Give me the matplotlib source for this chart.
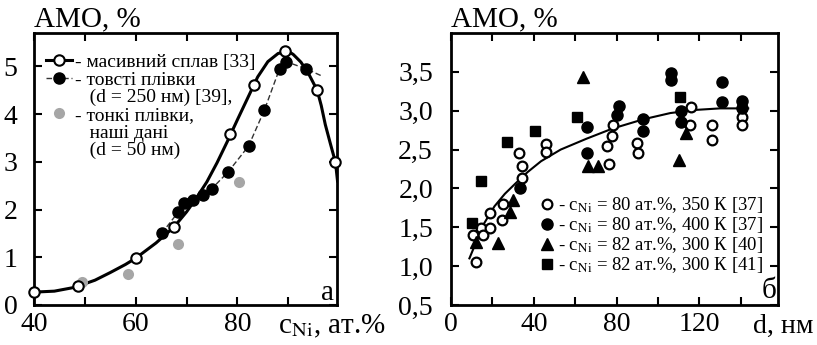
import matplotlib.pyplot as plt
from matplotlib.lines import Line2D

plt.rcParams['font.family'] = ['Liberation Serif', 'DejaVu Serif']
plt.rcParams['mathtext.fontset'] = 'stix'

# --- panel a: AMO vs Ni content ---
bulk_x = [40, 48.6, 60.1, 67.5, 78.6, 83.2, 89.4, 95.7, 99.3]
bulk_y = [0.28, 0.40, 0.98, 1.63, 3.59, 4.60, 5.32, 4.50, 2.99]
# solid curve
bulk_curve_x = [40, 44, 48, 52, 55, 58, 60, 64, 67.5, 70, 72, 74, 76, 78, 80, 82, 84, 86,
                88, 90, 91, 92.5, 94, 95.7, 96.5, 97.3, 98.3, 99.3, 99.7]
bulk_curve_y = [0.27, 0.29, 0.37, 0.52, 0.68, 0.85, 0.98, 1.30, 1.63, 1.95, 2.25, 2.58, 2.98, 3.42,
                3.88, 4.33, 4.78, 5.10, 5.27, 5.32, 5.25, 5.09, 4.85, 4.50, 4.18, 3.78, 3.38, 2.99, 2.60]

thick_x = [65.1, 68.4, 69.6, 71.3, 73.2, 75.0, 78.2, 82.2, 85.3, 88.3, 89.6, 93.5]
thick_y = [1.50, 1.95, 2.13, 2.21, 2.30, 2.44, 2.79, 3.33, 4.08, 4.95, 5.10, 4.95]
thick_line_x = thick_x + [96.6]
thick_line_y = thick_y + [4.80]

thin_x = [49.4, 58.4, 68.4, 80.3]
thin_y = [0.49, 0.65, 1.27, 2.58]

# --- panel b: AMO vs film thickness ---
k350_x = [11.9, 10.8, 14.3, 15.3, 18.8, 18.8, 25.3, 24.5, 33.0, 34.3, 34.3, 45.7, 45.7,
          75.5, 77.6, 78.4, 76.3, 90.0, 90.2, 115.9, 115.5, 125.9, 125.9, 140.4, 140.4]
k350_y = [1.05, 1.40, 1.49, 1.40, 1.68, 1.49, 1.80, 1.59, 2.46, 2.29, 2.14, 2.57, 2.47,
          2.54, 2.68, 2.81, 2.31, 2.58, 2.45, 3.05, 2.81, 2.82, 2.62, 2.92, 2.82]

k400_x = [33.3, 65.9, 65.9, 80.0, 81.3, 92.9, 92.9, 106.3, 106.3, 111.0, 111.0, 130.8, 130.8, 140.4, 140.4]
k400_y = [2.01, 2.79, 2.46, 2.95, 3.06, 2.89, 2.74, 3.48, 3.39, 2.99, 2.86, 3.37, 3.11, 3.12, 3.03]

tri_x = [11.9, 22.9, 28.5, 30.1, 63.6, 66.3, 71.2, 110.3, 113.5]
tri_y = [1.31, 1.30, 1.70, 1.85, 3.43, 2.29, 2.29, 2.36, 2.71]

sq_x = [10.0, 14.3, 26.9, 40.6, 60.7, 110.6]
sq_y = [1.55, 2.10, 2.60, 2.74, 2.92, 3.18]

fit_x = [8.9, 12, 16, 21, 26, 31, 37, 43.5, 53, 65.5, 78, 93, 106, 118, 130, 143.6]
fit_y = [1.10, 1.30, 1.55, 1.77, 1.93, 2.06, 2.21, 2.35, 2.50, 2.64, 2.77, 2.89, 2.97, 3.01, 3.03, 3.03]

gray = '#a6a6a6'

fig = plt.figure(figsize=(8.17, 3.45), dpi=100)
ax1 = fig.add_axes([34 / 817, 40 / 345, 303 / 817, 272 / 345])
ax2 = fig.add_axes([451 / 817, 40 / 345, 327 / 817, 272 / 345])

for ax in (ax1, ax2):
    ax.tick_params(direction='in', length=6, width=1.5, top=True, right=True, labelsize=20)
    for s in ax.spines.values():
        s.set_linewidth(2)

# panel a
ax1.plot(bulk_curve_x, bulk_curve_y, color='black', lw=2.2, zorder=2)
ax1.plot(thick_line_x, thick_line_y, color='#333333', lw=1, ls=(0, (4, 2)), zorder=2)
ax1.plot(thin_x, thin_y, 'o', color=gray, ms=8, mec='none', zorder=3)
ax1.plot(thick_x, thick_y, 'o', color='black', ms=8, zorder=4)
ax1.plot(bulk_x, bulk_y, 'o', mfc='white', mec='black', mew=1.5, ms=7.5, zorder=5, clip_on=False)

ax1.set_xlim(40, 99.6)
ax1.set_ylim(0, 5.7)
ax1.set_xticks(range(40, 100, 10))
ax1.set_xticklabels(['40', '', '60', '', '80', ''])
ax1.set_yticks(range(0, 6))
ax1.tick_params(axis='y', pad=17)
for lab in ax1.get_yticklabels():
    lab.set_ha('center')
ax1.tick_params(axis='x', pad=5)

h_bulk = Line2D([], [], color='black', lw=2.2, marker='o', mfc='white', mec='black', mew=1.5, ms=7.5)
h_thick = Line2D([], [], color='#333333', lw=1, ls=(0, (4, 2)), marker='o', mfc='black', mec='black', ms=8)
h_thin = Line2D([], [], ls='none', marker='o', color=gray, mec='none', ms=8)
h_blank = Line2D([], [], ls='none', marker='none')
ax1.legend([h_bulk, h_thick, h_blank, h_thin, h_blank, h_blank],
           ['- масивний сплав [33]', '- товсті плівки', '   (d = 250 нм) [39],',
            '- тонкі плівки,', '   наші дані', '   (d = 50 нм)'],
           loc='upper left', bbox_to_anchor=(0.04, 0.925), frameon=False, fontsize=14,
           borderpad=0, labelspacing=0, handlelength=1.35, handletextpad=0.15,
           numpoints=1, borderaxespad=0)

ax1.text(0, 1.026, 'АМО, %', transform=ax1.transAxes, ha='left', va='baseline', fontsize=21)
ax1.text(0.805, -0.103, r'c$_{\mathrm{Ni}}$, ат.%', transform=ax1.transAxes,
         ha='left', va='baseline', fontsize=21, clip_on=False)
ax1.text(0.99, 0.018, 'а', transform=ax1.transAxes, ha='right', va='baseline', fontsize=21)

# panel b
ax2.plot(fit_x, fit_y, color='black', lw=1.5, zorder=2)
ax2.plot(k350_x, k350_y, 'o', mfc='white', mec='black', mew=1.6, ms=7, ls='none', zorder=3)
ax2.plot(k400_x, k400_y, 'o', color='black', ms=8, ls='none', zorder=3)
ax2.plot(tri_x, tri_y, '^', color='black', ms=8, ls='none', zorder=3)
ax2.plot(sq_x, sq_y, 's', color='black', ms=6.5, ls='none', zorder=3)

ax2.set_xlim(0, 158)
ax2.set_ylim(0.5, 4.0)
ax2.set_xticks(range(0, 160, 20))
ax2.set_xticklabels(['0', '', '40', '', '80', '', '120', ''])
yt = [0.5, 1.0, 1.5, 2.0, 2.5, 3.0, 3.5]
ax2.set_yticks(yt)
ax2.set_yticklabels([f'{v:.1f}'.replace('.', ',') for v in yt])
ax2.tick_params(axis='y', pad=13)
ax2.tick_params(axis='x', pad=5)

leg_handles = [
    Line2D([], [], ls='none', marker='o', mfc='white', mec='black', mew=1.6, ms=7),
    Line2D([], [], ls='none', marker='o', color='black', ms=8),
    Line2D([], [], ls='none', marker='^', color='black', ms=8),
    Line2D([], [], ls='none', marker='s', color='black', ms=6.5),
]
leg_labels = [
    r'- c$_{\mathrm{Ni}}$ = 80 ат.%, 350 К [37]',
    r'- c$_{\mathrm{Ni}}$ = 80 ат.%, 400 К [37]',
    r'- c$_{\mathrm{Ni}}$ = 82 ат.%, 300 К [40]',
    r'- c$_{\mathrm{Ni}}$ = 82 ат.%, 300 К [41]',
]
ax2.legend(leg_handles, leg_labels, loc='lower right', bbox_to_anchor=(0.955, 0.11),
           frameon=False, fontsize=13.5, borderpad=0, labelspacing=0, handlelength=0.6,
           handletextpad=0.3, borderaxespad=0)

ax2.text(0, 1.026, 'АМО, %', transform=ax2.transAxes, ha='left', va='baseline', fontsize=21)
ax2.text(0.924, -0.103, 'd, нм', transform=ax2.transAxes, ha='left', va='baseline',
         fontsize=20, clip_on=False)
ax2.text(0.994, 0.027, 'б', transform=ax2.transAxes, ha='right', va='baseline', fontsize=21)

fig.savefig('out.png', dpi=100)
